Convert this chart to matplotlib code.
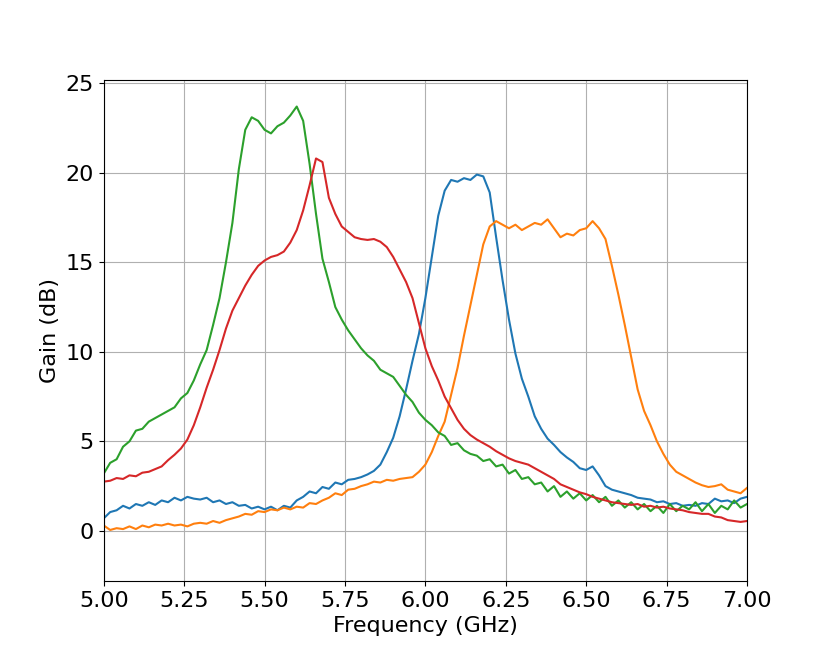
import numpy as np
import matplotlib
matplotlib.use("Agg")
import matplotlib.pyplot as plt

# frequency grid (GHz), 0.02 GHz step
freq = np.round(np.linspace(5.0, 7.0, 101), 2)

# gain traces (dB)
gain_blue = [
    0.7, 1.05, 1.15, 1.4, 1.25, 1.5, 1.4, 1.6, 1.45, 1.7,
    1.6, 1.85, 1.7, 1.9, 1.8, 1.75, 1.85, 1.6, 1.7, 1.5,
    1.6, 1.4, 1.45, 1.25, 1.35, 1.2, 1.35, 1.15, 1.4, 1.3,
    1.7, 1.9, 2.2, 2.1, 2.45, 2.35, 2.7, 2.6, 2.85, 2.9,
    3.0, 3.15, 3.35, 3.7, 4.4, 5.2, 6.4, 7.9, 9.5, 11.0,
    13.0, 15.3, 17.6, 19.0, 19.6, 19.5, 19.7, 19.6, 19.9, 19.8,
    18.9, 16.4, 14.0, 11.8, 9.9, 8.5, 7.5, 6.4, 5.7, 5.15,
    4.8, 4.4, 4.1, 3.85, 3.5, 3.4, 3.6, 3.1, 2.5, 2.3,
    2.2, 2.1, 2.0, 1.85, 1.8, 1.75, 1.6, 1.65, 1.5, 1.55,
    1.4, 1.45, 1.4, 1.55, 1.5, 1.8, 1.65, 1.7, 1.55, 1.8,
    1.9,
]
gain_orange = [
    0.3, 0.05, 0.15, 0.1, 0.25, 0.1, 0.3, 0.2, 0.35, 0.3,
    0.4, 0.3, 0.35, 0.25, 0.4, 0.45, 0.4, 0.55, 0.45, 0.6,
    0.7, 0.8, 0.95, 0.9, 1.1, 1.05, 1.2, 1.15, 1.3, 1.2,
    1.35, 1.3, 1.55, 1.5, 1.7, 1.85, 2.1, 2.0, 2.3, 2.35,
    2.5, 2.6, 2.75, 2.7, 2.85, 2.8, 2.9, 2.95, 3.0, 3.3,
    3.7, 4.4, 5.3, 6.1, 7.6, 9.1, 10.9, 12.6, 14.3, 16.0,
    17.0, 17.3, 17.1, 16.9, 17.1, 16.8, 17.0, 17.2, 17.1, 17.4,
    16.9, 16.4, 16.6, 16.5, 16.8, 16.9, 17.3, 16.9, 16.3, 14.8,
    13.2, 11.5, 9.7, 7.9, 6.7, 5.9, 5.0, 4.3, 3.7, 3.3,
    3.1, 2.9, 2.7, 2.55, 2.45, 2.5, 2.6, 2.3, 2.2, 2.1,
    2.4,
]
gain_green = [
    3.2, 3.8, 4.0, 4.7, 5.0, 5.6, 5.7, 6.1, 6.3, 6.5,
    6.7, 6.9, 7.4, 7.7, 8.4, 9.3, 10.1, 11.5, 13.0, 15.0,
    17.2, 20.2, 22.4, 23.1, 22.9, 22.4, 22.2, 22.6, 22.8, 23.2,
    23.7, 22.9, 20.5, 17.7, 15.2, 13.9, 12.5, 11.8, 11.2, 10.7,
    10.2, 9.8, 9.5, 9.0, 8.8, 8.6, 8.1, 7.6, 7.2, 6.6,
    6.2, 5.9, 5.5, 5.3, 4.8, 4.9, 4.5, 4.3, 4.2, 3.9,
    4.0, 3.6, 3.7, 3.2, 3.4, 2.9, 3.0, 2.6, 2.7, 2.2,
    2.5, 1.9, 2.2, 1.8, 2.1, 1.7, 2.0, 1.6, 1.9, 1.4,
    1.7, 1.3, 1.6, 1.2, 1.5, 1.1, 1.4, 1.0, 1.5, 1.1,
    1.4, 1.2, 1.6, 1.1, 1.5, 1.0, 1.4, 1.2, 1.7, 1.3,
    1.5,
]
gain_red = [
    2.75, 2.8, 2.95, 2.9, 3.1, 3.05, 3.25, 3.3, 3.45, 3.6,
    3.95, 4.25, 4.6, 5.1, 5.9, 6.9, 8.0, 9.0, 10.1, 11.3,
    12.3, 13.0, 13.7, 14.3, 14.8, 15.1, 15.3, 15.4, 15.6, 16.1,
    16.8, 17.9, 19.3, 20.8, 20.6, 18.6, 17.7, 17.0, 16.7, 16.4,
    16.3, 16.25, 16.3, 16.15, 15.85, 15.3, 14.6, 13.9, 13.0, 11.6,
    10.2, 9.2, 8.4, 7.5, 6.85, 6.2, 5.7, 5.35, 5.1, 4.9,
    4.7, 4.45, 4.25, 4.05, 3.9, 3.8, 3.7, 3.5, 3.3, 3.1,
    2.9, 2.6, 2.45, 2.3, 2.15, 2.05, 1.9, 1.8, 1.7, 1.6,
    1.55, 1.5, 1.45, 1.5, 1.35, 1.4, 1.3, 1.35, 1.25, 1.2,
    1.15, 1.05, 1.0, 0.95, 0.95, 0.8, 0.75, 0.6, 0.55, 0.5,
    0.55,
]

plt.rcParams["font.size"] = 16

fig = plt.figure(figsize=(8.3, 6.64), dpi=100)
ax = fig.add_subplot(111)
fig.subplots_adjust(left=0.125, right=0.9, top=0.88, bottom=0.125)

ax.plot(freq, gain_blue)
ax.plot(freq, gain_orange)
ax.plot(freq, gain_green)
ax.plot(freq, gain_red)

ax.set_xlim(5.0, 7.0)
ax.set_ylim(-2.8, 25.2)
ax.set_xlabel("Frequency (GHz)")
ax.set_ylabel("Gain (dB)")
ax.grid(True)

fig.savefig("out.png")
